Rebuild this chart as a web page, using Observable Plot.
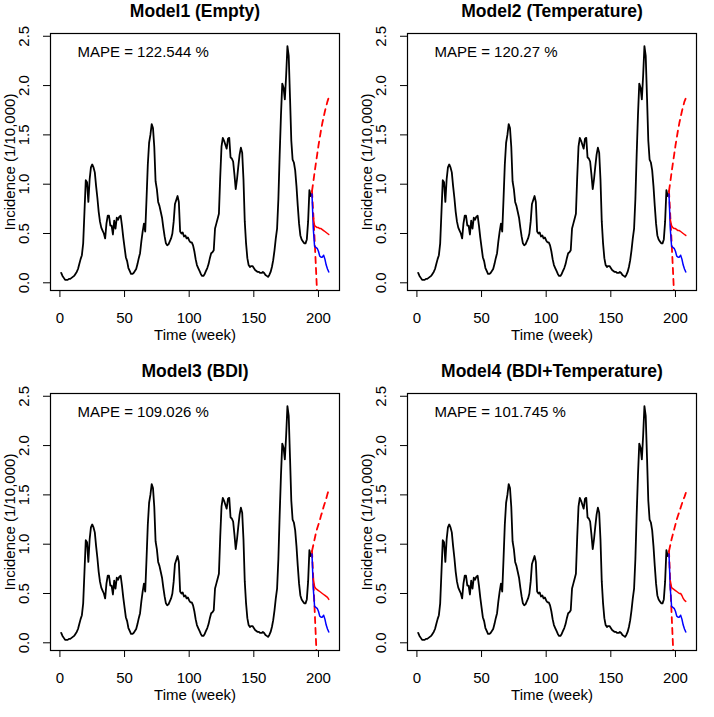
<!DOCTYPE html>
<html>
<head>
<meta charset="utf-8">
<script src="https://cdn.jsdelivr.net/npm/d3@7"></script>
<script src="https://cdn.jsdelivr.net/npm/@observablehq/plot@0.6"></script>
<style>
  html, body { margin: 0; padding: 0; background: #fff; }
  #wrap { position: relative; width: 714px; height: 717px; }
  .panel { position: absolute; width: 357px; height: 358px; }
</style>
</head>
<body>
<div id="wrap"></div>
<script>
// Observed incidence (1/10,000), weeks 1..195
const observed = [
  0.10,0.07,0.05,0.03,0.03,0.03,0.04,0.04,0.05,0.06,
  0.07,0.09,0.11,0.14,0.19,0.24,0.28,0.40,0.72,1.04,
  1.02,0.82,1.05,1.17,1.20,1.17,1.12,0.98,0.86,0.72,
  0.62,0.56,0.53,0.50,0.45,0.60,0.68,0.68,0.58,0.58,
  0.49,0.63,0.55,0.66,0.64,0.67,0.68,0.58,0.46,0.36,
  0.26,0.22,0.15,0.12,0.09,0.09,0.10,0.12,0.14,0.19,
  0.25,0.30,0.42,0.52,0.60,0.52,0.85,1.20,1.42,1.50,
  1.61,1.57,1.38,1.03,0.95,0.82,0.78,0.72,0.66,0.56,
  0.47,0.40,0.38,0.39,0.42,0.45,0.50,0.62,0.80,0.84,
  0.88,0.82,0.52,0.50,0.51,0.47,0.48,0.45,0.46,0.43,
  0.41,0.41,0.38,0.32,0.24,0.18,0.15,0.12,0.09,0.07,
  0.07,0.09,0.12,0.15,0.19,0.25,0.30,0.31,0.33,0.55,
  0.60,0.65,0.70,1.07,1.38,1.47,1.44,1.40,1.36,1.46,
  1.47,1.27,1.26,1.23,1.10,0.95,1.05,1.18,1.30,1.37,
  1.32,1.05,0.62,0.40,0.25,0.18,0.16,0.17,0.17,0.15,
  0.13,0.12,0.11,0.11,0.10,0.10,0.11,0.10,0.08,0.07,
  0.06,0.08,0.11,0.16,0.23,0.33,0.45,0.55,0.85,1.30,
  1.70,2.02,1.98,1.86,2.10,2.40,2.30,1.88,1.44,1.25,
  1.22,1.14,0.98,0.78,0.60,0.48,0.44,0.42,0.40,0.40,
  0.44,0.62,0.94,0.88,0.90
];
// Held-out actual values, weeks 195..208
const actualWeeks = [195,196,197,198,199,200,201,202,203,204,205,206,207,208];
const actual = [0.90,0.55,0.37,0.36,0.35,0.32,0.27,0.26,0.26,0.28,0.24,0.18,0.14,0.11];

// Forecasts, weeks 196..208
const fcWeeks = [196,197,198,199,200,201,202,203,204,205,206,207,208];
const titles = ["Model1 (Empty)", "Model2 (Temperature)", "Model3 (BDI)", "Model4 (BDI+Temperature)"];
const mape = ["MAPE = 122.544 %", "MAPE = 120.27 %", "MAPE = 109.026 %", "MAPE = 101.745 %"];
const forecast = [
  [0.66,0.58,0.57,0.56,0.56,0.55,0.55,0.54,0.53,0.52,0.51,0.50,0.49],
  [0.64,0.58,0.56,0.55,0.55,0.54,0.53,0.53,0.52,0.51,0.50,0.49,0.48],
  [0.65,0.57,0.55,0.54,0.53,0.52,0.51,0.50,0.49,0.48,0.47,0.46,0.44],
  [0.63,0.56,0.55,0.54,0.53,0.52,0.51,0.50,0.50,0.48,0.45,0.43,0.42]
];
// Prediction interval bounds, weeks 195..208
const bandWeeks = [195,196,197,198,199,200,201,202,203,204,205,206,207,208];
const upper = [
  [0.93,1.02,1.12,1.21,1.30,1.39,1.47,1.55,1.62,1.68,1.74,1.79,1.84,1.88],
  [0.93,1.02,1.12,1.21,1.30,1.39,1.47,1.55,1.62,1.68,1.74,1.79,1.84,1.87],
  [0.93,0.99,1.05,1.11,1.16,1.20,1.24,1.29,1.33,1.38,1.42,1.46,1.51,1.55],
  [0.93,0.99,1.05,1.10,1.15,1.20,1.25,1.29,1.33,1.37,1.41,1.45,1.48,1.52]
];
const lower = [
  [0.93,0.70,0.45,0.17,-0.12,-0.42,-0.72,-1.02,-1.30,-1.58,-1.85,-2.10,-2.35,-2.60],
  [0.93,0.68,0.42,0.15,-0.14,-0.44,-0.74,-1.04,-1.32,-1.60,-1.87,-2.12,-2.37,-2.62],
  [0.93,0.65,0.35,0.05,-0.25,-0.55,-0.85,-1.15,-1.43,-1.70,-1.96,-2.20,-2.44,-2.68],
  [0.93,0.60,0.30,0.00,-0.30,-0.60,-0.90,-1.20,-1.48,-1.75,-2.01,-2.25,-2.49,-2.73]
];
const xTicks = [0, 50, 100, 150, 200];
const yTicks = [0, 0.5, 1, 1.5, 2, 2.5];

const obsData = observed.map((v, i) => ({week: i + 1, v}));
const actData = actualWeeks.map((w, i) => ({week: w, v: actual[i]}));

const font = "'Liberation Sans', Arial, Helvetica, sans-serif";
const wrap = document.getElementById("wrap");

for (let p = 0; p < 4; p++) {
  const fc = fcWeeks.map((w, i) => ({week: w, v: forecast[p][i]}));
  const up = bandWeeks.map((w, i) => ({week: w, v: upper[p][i]}));
  const lo = bandWeeks.map((w, i) => ({week: w, v: lower[p][i]}));
  const chart = Plot.plot({
    width: 357,
    height: 358,
    marginLeft: 50,
    marginRight: 18,
    marginTop: 33,
    marginBottom: 68,
    x: {domain: [-7.28, 216.28]},
    y: {domain: [-0.078, 2.528]},
    style: {fontFamily: font, fontSize: "15px", color: "black", background: "white", overflow: "visible"},
    marks: [
      Plot.line(obsData, {x: "week", y: "v", stroke: "black", strokeWidth: 1.8, clip: true}),
      Plot.line(up, {x: "week", y: "v", stroke: "#ff0000", strokeWidth: 1.8, strokeDasharray: "6,5", clip: true}),
      Plot.line(lo, {x: "week", y: "v", stroke: "#ff0000", strokeWidth: 1.8, strokeDasharray: "6,5", clip: true}),
      Plot.line(actData, {x: "week", y: "v", stroke: "#0000ff", strokeWidth: 1.5, clip: true}),
      Plot.line(fc, {x: "week", y: "v", stroke: "#ff0000", strokeWidth: 1.5, clip: true}),
      Plot.frame({stroke: "black", strokeWidth: 1.2}),
      Plot.axisX({ticks: xTicks, tickSize: 7, tickPadding: 15, fontSize: 15, label: null, tickFormat: d3.format("d")}),
      Plot.axisY({ticks: yTicks, tickSize: 7, tickPadding: 15, tickRotate: -90, fontSize: 15, label: null, tickFormat: d3.format(".1f")}),
      Plot.text([titles[p]], {frameAnchor: "top", lineAnchor: "middle", dy: -22, fontSize: 17.5, fontWeight: "bold", fill: "black"}),
      Plot.text([mape[p]], {frameAnchor: "top-left", lineAnchor: "middle", dx: 27, dy: 19, textAnchor: "start", fontSize: 15, fill: "black"}),
      Plot.text(["Time (week)"], {frameAnchor: "bottom", lineAnchor: "middle", dy: 45, fontSize: 15, fill: "black"}),
      Plot.text(["Incidence (1/10,000)"], {frameAnchor: "left", textAnchor: "middle", lineAnchor: "middle", dx: -40, rotate: -90, fontSize: 15, fill: "black"})
    ]
  });
  const div = document.createElement("div");
  div.className = "panel";
  div.style.left = (p % 2) * 357 + "px";
  div.style.top = Math.floor(p / 2) * 360 + "px";
  div.appendChild(chart);
  wrap.appendChild(div);
}
</script>
</body>
</html>
